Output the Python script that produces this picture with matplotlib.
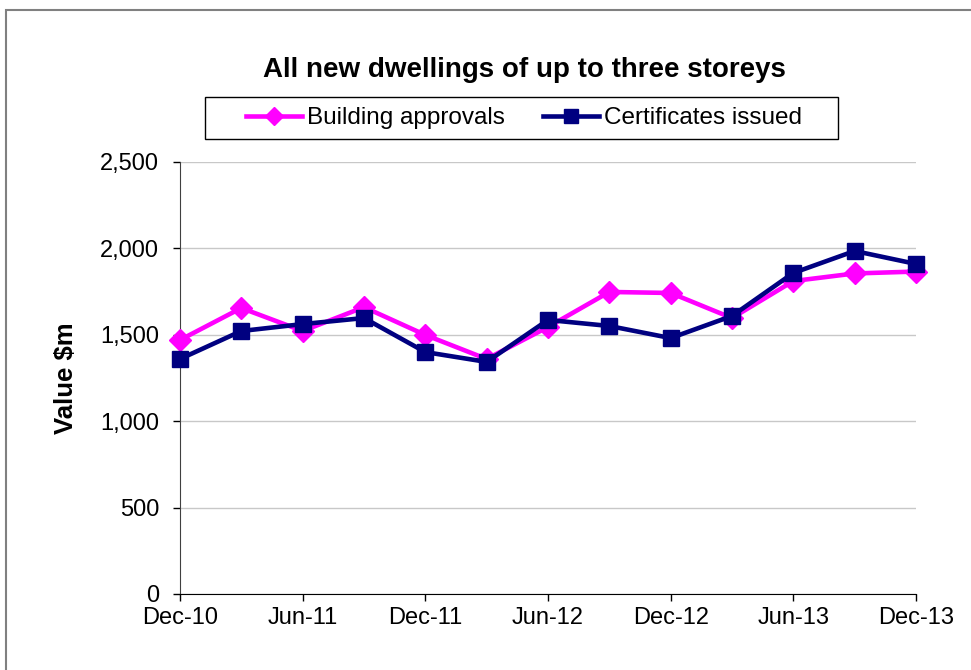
import matplotlib.pyplot as plt
from matplotlib.patches import Rectangle
from matplotlib.ticker import FuncFormatter

plt.rcParams['font.family'] = ['Liberation Sans', 'DejaVu Sans']

# Quarterly values, Dec-10 .. Dec-13
quarters = ["Dec-10", "Mar-11", "Jun-11", "Sep-11", "Dec-11", "Mar-12", "Jun-12",
            "Sep-12", "Dec-12", "Mar-13", "Jun-13", "Sep-13", "Dec-13"]
approvals = [1470, 1655, 1522, 1660, 1499, 1360, 1545, 1748, 1742, 1597, 1811, 1855, 1866]
certificates = [1360, 1522, 1562, 1597, 1400, 1343, 1586, 1551, 1481, 1609, 1858, 1985, 1910]

W, H = 971, 670
fig = plt.figure(figsize=(W / 100, H / 100), dpi=100)
ax = fig.add_axes([180 / W, 76 / H, 736 / W, 432 / H])

x = list(range(len(quarters)))
ax.plot(x, approvals, color="#FF00FF", linewidth=3.3, marker="D", markersize=11,
        label="Building approvals", zorder=3, clip_on=False)
ax.plot(x, certificates, color="#000080", linewidth=3.3, marker="s", markersize=12,
        label="Certificates issued", zorder=4, clip_on=False)

ax.set_xlim(0, 12)
ax.set_ylim(0, 2500)
ax.set_yticks(range(0, 2501, 500))
ax.yaxis.set_major_formatter(FuncFormatter(lambda v, p: f"{int(v):,}"))
ax.set_xticks(x[::2])
ax.set_xticklabels(quarters[::2])
ax.tick_params(axis="both", labelsize=17, direction="out", length=5, width=1, colors="black")
ax.tick_params(axis="x", pad=4)
ax.tick_params(axis="y", pad=10)

ax.grid(axis="y", color="#C8C8C8", linewidth=1)
ax.set_axisbelow(True)
for side in ["top", "right"]:
    ax.spines[side].set_visible(False)
ax.spines["left"].set_color("#404040")
ax.spines["bottom"].set_color("black")

ax.set_ylabel("Value \\$m", fontsize=18.5, fontweight="bold", labelpad=16)

fig.text(524.5 / W, 1 - 70 / H, "All new dwellings of up to three storeys",
         ha="center", va="center", fontsize=20, fontweight="bold")

leg = fig.legend(loc="center", bbox_to_anchor=(524 / W, 1 - 118 / H), ncol=2, fontsize=17.5,
                 frameon=False, handlelength=2.3, columnspacing=1.6,
                 handletextpad=0.2, borderpad=0, borderaxespad=0, markerscale=0.85)

# legend box and outer chart border
fig.add_artist(Rectangle((205 / W, 1 - 139 / H), 633 / W, 42 / H, transform=fig.transFigure,
                         fill=False, edgecolor="black", linewidth=1))
fig.add_artist(Rectangle((6 / W, -0.1), 1.2, 1.1 - 10.5 / H, transform=fig.transFigure,
                         fill=False, edgecolor="#808080", linewidth=1.5))

fig.savefig("out.png", dpi=100)
